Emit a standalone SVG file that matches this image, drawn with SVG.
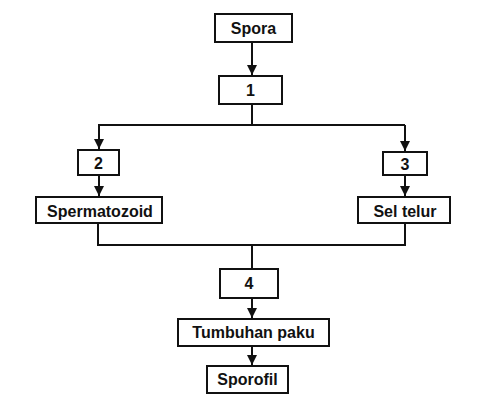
<svg xmlns="http://www.w3.org/2000/svg" width="486" height="406" viewBox="0 0 486 406">
<style>
.box{fill:#fff;stroke:#111;stroke-width:2}
.t{font-family:"Liberation Sans",Arial,sans-serif;font-size:16px;font-weight:bold;fill:#111;text-anchor:middle}
.c{fill:none;stroke:#111;stroke-width:2}
</style>
<defs>
<marker id="ah" markerUnits="userSpaceOnUse" markerWidth="12" markerHeight="12" refX="10" refY="5" orient="auto">
<path d="M0,0 L10,5 L0,10 Z" fill="#111"/>
</marker>
</defs>
<rect width="486" height="406" fill="#fff"/>
<g id="connectors">
<path class="c" d="M252,42 V75" marker-end="url(#ah)"/>
<path class="c" d="M252,104 V125"/>
<path class="c" d="M98,125 H405"/>
<path class="c" d="M99,125 V149" marker-end="url(#ah)"/>
<path class="c" d="M405,125 V151" marker-end="url(#ah)"/>
<path class="c" d="M99,175 V196" marker-end="url(#ah)"/>
<path class="c" d="M405,175 V196" marker-end="url(#ah)"/>
<path class="c" d="M98,223 V245 H405 V223"/>
<path class="c" d="M252,245 V269"/>
<path class="c" d="M252,298 V318" marker-end="url(#ah)"/>
<path class="c" d="M252,346 V365" marker-end="url(#ah)"/>
</g>
<g id="spora"><rect class="box" x="215" y="14" width="77" height="28"/><text class="t" x="253.5" y="34">Spora</text></g>
<g id="n1"><rect class="box" x="219" y="76" width="63" height="28"/><text class="t" x="250.5" y="96">1</text></g>
<g id="n2"><rect class="box" x="78" y="150" width="41" height="25"/><text class="t" x="98.5" y="168.5">2</text></g>
<g id="n3"><rect class="box" x="383" y="152" width="44" height="23"/><text class="t" x="405" y="169.5">3</text></g>
<g id="spermatozoid"><rect class="box" x="36" y="197" width="126" height="26"/><text class="t" x="100" y="216.5">Spermatozoid</text></g>
<g id="seltelur"><rect class="box" x="358" y="197" width="92" height="26"/><text class="t" x="405" y="216.5">Sel telur</text></g>
<g id="n4"><rect class="box" x="220" y="269" width="58" height="29"/><text class="t" x="249" y="289">4</text></g>
<g id="tumbuhan"><rect class="box" x="178" y="319" width="151" height="27"/><text class="t" x="253.5" y="338">Tumbuhan paku</text></g>
<g id="sporofil"><rect class="box" x="207" y="366" width="81" height="27"/><text class="t" x="247.5" y="385">Sporofil</text></g>
</svg>
